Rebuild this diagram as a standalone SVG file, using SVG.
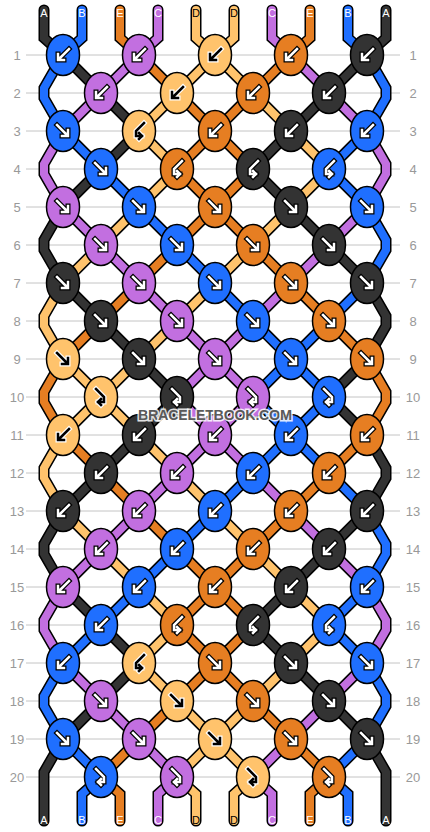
<svg xmlns="http://www.w3.org/2000/svg" xmlns:xlink="http://www.w3.org/1999/xlink" width="430" height="832" viewBox="0 0 430 832">
<style>
.k{fill:#333333}.b{fill:#1f6fff}.o{fill:#e67e22}.p{fill:#c26fe0}.l{fill:#ffc36c}
.ao{fill:none;stroke:#000;stroke-width:5;stroke-linecap:square;stroke-linejoin:miter}
.ai{fill:none;stroke:#fff;stroke-width:2.5;stroke-linecap:square;stroke-linejoin:miter}
.aow{fill:none;stroke:#fff;stroke-width:5;stroke-linecap:square;stroke-linejoin:miter}
.aik{fill:none;stroke:#000;stroke-width:2.5;stroke-linecap:square;stroke-linejoin:miter}
.num{font-family:"Liberation Sans",Arial,sans-serif;font-size:13px;fill:#999;text-anchor:middle}
.lab{font-family:"Liberation Sans",Arial,sans-serif;font-size:11px;text-anchor:middle}
</style>
<defs>
<ellipse id="kn" cx="0" cy="0" rx="16.5" ry="20.5" stroke="#000" stroke-width="1.5"/>
<path id="pB" d="M6,-6L-4,4M-5,-1L-5,5L1,5"/>
<path id="pF" d="M-6,-6L4,4M5,-1L5,5L-1,5"/>
<path id="pBF" d="M5,-8L-3,0L-3,5L3,5M0,2L3,5L0,8"/>
<path id="pFB" d="M-5,-8L3,0L3,5L-3,5M0,2L-3,5L0,8"/>
<g id="aB"><use href="#pB" class="ao"/><use href="#pB" class="ai"/></g>
<g id="aF"><use href="#pF" class="ao"/><use href="#pF" class="ai"/></g>
<g id="aBF"><use href="#pBF" class="ao"/><use href="#pBF" class="ai"/></g>
<g id="aFB"><use href="#pFB" class="ao"/><use href="#pFB" class="ai"/></g>
<g id="dB"><use href="#pB" class="aow"/><use href="#pB" class="aik"/></g>
<g id="dF"><use href="#pF" class="aow"/><use href="#pF" class="aik"/></g>
<g id="dBF"><use href="#pBF" class="aow"/><use href="#pBF" class="aik"/></g>
<g id="dFB"><use href="#pFB" class="aow"/><use href="#pFB" class="aik"/></g>
</defs>
<rect width="430" height="832" fill="#fff"/>
<g id="grid" stroke="#c4c4c4" stroke-width="1">
<line x1="26" y1="55" x2="400" y2="55"/><line x1="26" y1="93" x2="400" y2="93"/><line x1="26" y1="131" x2="400" y2="131"/><line x1="26" y1="169" x2="400" y2="169"/><line x1="26" y1="207" x2="400" y2="207"/><line x1="26" y1="245" x2="400" y2="245"/><line x1="26" y1="283" x2="400" y2="283"/><line x1="26" y1="321" x2="400" y2="321"/><line x1="26" y1="359" x2="400" y2="359"/><line x1="26" y1="397" x2="400" y2="397"/><line x1="26" y1="435" x2="400" y2="435"/><line x1="26" y1="473" x2="400" y2="473"/><line x1="26" y1="511" x2="400" y2="511"/><line x1="26" y1="549" x2="400" y2="549"/><line x1="26" y1="587" x2="400" y2="587"/><line x1="26" y1="625" x2="400" y2="625"/><line x1="26" y1="663" x2="400" y2="663"/><line x1="26" y1="701" x2="400" y2="701"/><line x1="26" y1="739" x2="400" y2="739"/><line x1="26" y1="777" x2="400" y2="777"/>
</g>
<g id="rownums" class="num">
<text x="17" y="60">1</text><text x="17" y="98">2</text><text x="17" y="136">3</text><text x="17" y="174">4</text><text x="17" y="212">5</text><text x="17" y="250">6</text><text x="17" y="288">7</text><text x="17" y="326">8</text><text x="17" y="364">9</text><text x="17" y="402">10</text><text x="17" y="440">11</text><text x="17" y="478">12</text><text x="17" y="516">13</text><text x="17" y="554">14</text><text x="17" y="592">15</text><text x="17" y="630">16</text><text x="17" y="668">17</text><text x="17" y="706">18</text><text x="17" y="744">19</text><text x="17" y="782">20</text>
<text x="413" y="60">1</text><text x="413" y="98">2</text><text x="413" y="136">3</text><text x="413" y="174">4</text><text x="413" y="212">5</text><text x="413" y="250">6</text><text x="413" y="288">7</text><text x="413" y="326">8</text><text x="413" y="364">9</text><text x="413" y="402">10</text><text x="413" y="440">11</text><text x="413" y="478">12</text><text x="413" y="516">13</text><text x="413" y="554">14</text><text x="413" y="592">15</text><text x="413" y="630">16</text><text x="413" y="668">17</text><text x="413" y="706">18</text><text x="413" y="744">19</text><text x="413" y="782">20</text>
</g>
<g id="connectors" fill="none" stroke-linecap="round" stroke-linejoin="miter">
<g id="outline" stroke="#000" stroke-width="11">
<use href="#sA"/><use href="#sB"/><use href="#sE"/><use href="#sC"/><use href="#sD"/>
</g>
<g stroke="#333333" stroke-width="8"><g id="sA">
<path d="M44,10L44,38L63,55M386,10L386,38L367,55"/>
<path d="M63,55L101,93M367,55L329,93M101,93L139,131M329,93L291,131M139,131L101,169M291,131L253,169M101,169L63,207M253,169L291,207M291,207L329,245M329,245L367,283M63,283L101,321M101,321L139,359M139,359L177,397M367,359L329,397M177,397L139,435M329,397L367,435M139,435L101,473M101,473L63,511M367,511L329,549M329,549L291,587M63,587L101,625M291,587L253,625M101,625L139,663M253,625L291,663M139,663L101,701M291,663L329,701M101,701L63,739M329,701L367,739"/>
<path d="M63,207L44,240L44,250L63,283M63,511L44,544L44,554L63,587M367,283L386,316L386,326L367,359M367,435L386,468L386,478L367,511"/>
<path d="M63,739L44,772L44,821M367,739L386,772L386,821"/>
</g></g>
<g stroke="#1f6fff" stroke-width="8"><g id="sB">
<path d="M82,10L82,38L63,55M348,10L348,38L367,55"/>
<path d="M63,131L101,169M367,131L329,169M101,169L139,207M329,169L367,207M139,207L177,245M177,245L215,283M215,283L253,321M367,283L329,321M253,321L291,359M329,321L291,359M291,359L253,397M291,359L329,397M253,397L291,435M329,397L291,435M291,435L253,473M291,435L329,473M253,473L215,511M329,473L367,511M215,511L177,549M177,549L139,587M139,587L101,625M367,587L329,625M101,625L63,663M329,625L367,663M63,739L101,777M367,739L329,777"/>
<path d="M63,55L44,88L44,98L63,131M367,55L386,88L386,98L367,131M367,207L386,240L386,250L367,283M367,511L386,544L386,554L367,587M63,663L44,696L44,706L63,739M367,663L386,696L386,706L367,739"/>
<path d="M101,777L82,794L82,821M329,777L348,794L348,821"/>
</g></g>
<g stroke="#e67e22" stroke-width="8"><g id="sE">
<path d="M120,10L120,38L139,55M310,10L310,38L291,55"/>
<path d="M139,55L177,93M291,55L253,93M177,93L215,131M253,93L215,131M215,131L177,169M215,131L253,169M177,169L215,207M253,169L215,207M215,207L177,245M215,207L253,245M177,245L139,283M253,245L291,283M139,283L101,321M291,283L329,321M101,321L63,359M329,321L367,359M63,435L101,473M367,435L329,473M101,473L139,511M329,473L291,511M139,511L177,549M291,511L253,549M177,549L215,587M253,549L215,587M215,587L177,625M215,587L253,625M177,625L215,663M253,625L215,663M215,663L177,701M215,663L253,701M177,701L139,739M253,701L291,739M139,739L101,777M291,739L329,777"/>
<path d="M63,359L44,392L44,402L63,435M367,359L386,392L386,402L367,435"/>
<path d="M101,777L120,794L120,821M329,777L310,794L310,821"/>
</g></g>
<g stroke="#c26fe0" stroke-width="8"><g id="sC">
<path d="M158,10L158,38L139,55M272,10L272,38L291,55"/>
<path d="M139,55L101,93M291,55L329,93M101,93L63,131M329,93L367,131M63,207L101,245M367,207L329,245M101,245L139,283M329,245L291,283M139,283L177,321M291,283L253,321M177,321L215,359M253,321L215,359M215,359L177,397M215,359L253,397M177,397L215,435M253,397L215,435M215,435L177,473M215,435L253,473M177,473L139,511M253,473L291,511M139,511L101,549M291,511L329,549M101,549L63,587M329,549L367,587M63,663L101,701M367,663L329,701M101,701L139,739M329,701L291,739M139,739L177,777M291,739L253,777"/>
<path d="M63,131L44,164L44,174L63,207M367,131L386,164L386,174L367,207M63,587L44,620L44,630L63,663M367,587L386,620L386,630L367,663"/>
<path d="M177,777L158,794L158,821M253,777L272,794L272,821"/>
</g></g>
<g stroke="#ffc36c" stroke-width="8"><g id="sD">
<path d="M196,10L196,38L215,55M234,10L234,38L215,55"/>
<path d="M215,55L177,93M215,55L253,93M177,93L139,131M253,93L291,131M139,131L177,169M291,131L329,169M177,169L139,207M329,169L291,207M139,207L101,245M291,207L253,245M101,245L63,283M253,245L215,283M215,283L177,321M177,321L139,359M63,359L101,397M139,359L101,397M101,397L63,435M101,397L139,435M139,435L177,473M177,473L215,511M63,511L101,549M215,511L253,549M101,549L139,587M253,549L291,587M139,587L177,625M291,587L329,625M177,625L139,663M329,625L291,663M139,663L177,701M291,663L253,701M177,701L215,739M253,701L215,739M215,739L177,777M215,739L253,777"/>
<path d="M63,283L44,316L44,326L63,359M63,435L44,468L44,478L63,511"/>
<path d="M177,777L196,794L196,821M253,777L234,794L234,821"/>
</g></g>
</g>
<g id="knots">
<g id="k1-1"><use href="#kn" class="b" x="63" y="55"/><use href="#aB" x="63" y="55"/></g>
<g id="k1-2"><use href="#kn" class="p" x="139" y="55"/><use href="#aB" x="139" y="55"/></g>
<g id="k1-3"><use href="#kn" class="l" x="215" y="55"/><use href="#dB" x="215" y="55"/></g>
<g id="k1-4"><use href="#kn" class="o" x="291" y="55"/><use href="#aB" x="291" y="55"/></g>
<g id="k1-5"><use href="#kn" class="k" x="367" y="55"/><use href="#aB" x="367" y="55"/></g>
<g id="k2-1"><use href="#kn" class="p" x="101" y="93"/><use href="#aB" x="101" y="93"/></g>
<g id="k2-2"><use href="#kn" class="l" x="177" y="93"/><use href="#dB" x="177" y="93"/></g>
<g id="k2-3"><use href="#kn" class="o" x="253" y="93"/><use href="#aB" x="253" y="93"/></g>
<g id="k2-4"><use href="#kn" class="k" x="329" y="93"/><use href="#aB" x="329" y="93"/></g>
<g id="k3-1"><use href="#kn" class="b" x="63" y="131"/><use href="#aF" x="63" y="131"/></g>
<g id="k3-2"><use href="#kn" class="l" x="139" y="131"/><use href="#dBF" x="139" y="131"/></g>
<g id="k3-3"><use href="#kn" class="o" x="215" y="131"/><use href="#aB" x="215" y="131"/></g>
<g id="k3-4"><use href="#kn" class="k" x="291" y="131"/><use href="#aB" x="291" y="131"/></g>
<g id="k3-5"><use href="#kn" class="b" x="367" y="131"/><use href="#aB" x="367" y="131"/></g>
<g id="k4-1"><use href="#kn" class="b" x="101" y="169"/><use href="#aF" x="101" y="169"/></g>
<g id="k4-2"><use href="#kn" class="o" x="177" y="169"/><use href="#aBF" x="177" y="169"/></g>
<g id="k4-3"><use href="#kn" class="k" x="253" y="169"/><use href="#aBF" x="253" y="169"/></g>
<g id="k4-4"><use href="#kn" class="b" x="329" y="169"/><use href="#aBF" x="329" y="169"/></g>
<g id="k5-1"><use href="#kn" class="p" x="63" y="207"/><use href="#aF" x="63" y="207"/></g>
<g id="k5-2"><use href="#kn" class="b" x="139" y="207"/><use href="#aF" x="139" y="207"/></g>
<g id="k5-3"><use href="#kn" class="o" x="215" y="207"/><use href="#aF" x="215" y="207"/></g>
<g id="k5-4"><use href="#kn" class="k" x="291" y="207"/><use href="#aF" x="291" y="207"/></g>
<g id="k5-5"><use href="#kn" class="b" x="367" y="207"/><use href="#aF" x="367" y="207"/></g>
<g id="k6-1"><use href="#kn" class="p" x="101" y="245"/><use href="#aF" x="101" y="245"/></g>
<g id="k6-2"><use href="#kn" class="b" x="177" y="245"/><use href="#aF" x="177" y="245"/></g>
<g id="k6-3"><use href="#kn" class="o" x="253" y="245"/><use href="#aF" x="253" y="245"/></g>
<g id="k6-4"><use href="#kn" class="k" x="329" y="245"/><use href="#aF" x="329" y="245"/></g>
<g id="k7-1"><use href="#kn" class="k" x="63" y="283"/><use href="#aF" x="63" y="283"/></g>
<g id="k7-2"><use href="#kn" class="p" x="139" y="283"/><use href="#aF" x="139" y="283"/></g>
<g id="k7-3"><use href="#kn" class="b" x="215" y="283"/><use href="#aF" x="215" y="283"/></g>
<g id="k7-4"><use href="#kn" class="o" x="291" y="283"/><use href="#aF" x="291" y="283"/></g>
<g id="k7-5"><use href="#kn" class="k" x="367" y="283"/><use href="#aF" x="367" y="283"/></g>
<g id="k8-1"><use href="#kn" class="k" x="101" y="321"/><use href="#aF" x="101" y="321"/></g>
<g id="k8-2"><use href="#kn" class="p" x="177" y="321"/><use href="#aF" x="177" y="321"/></g>
<g id="k8-3"><use href="#kn" class="b" x="253" y="321"/><use href="#aF" x="253" y="321"/></g>
<g id="k8-4"><use href="#kn" class="o" x="329" y="321"/><use href="#aF" x="329" y="321"/></g>
<g id="k9-1"><use href="#kn" class="l" x="63" y="359"/><use href="#dF" x="63" y="359"/></g>
<g id="k9-2"><use href="#kn" class="k" x="139" y="359"/><use href="#aF" x="139" y="359"/></g>
<g id="k9-3"><use href="#kn" class="p" x="215" y="359"/><use href="#aF" x="215" y="359"/></g>
<g id="k9-4"><use href="#kn" class="b" x="291" y="359"/><use href="#aF" x="291" y="359"/></g>
<g id="k9-5"><use href="#kn" class="o" x="367" y="359"/><use href="#aF" x="367" y="359"/></g>
<g id="k10-1"><use href="#kn" class="l" x="101" y="397"/><use href="#dFB" x="101" y="397"/></g>
<g id="k10-2"><use href="#kn" class="k" x="177" y="397"/><use href="#aFB" x="177" y="397"/></g>
<g id="k10-3"><use href="#kn" class="p" x="253" y="397"/><use href="#aFB" x="253" y="397"/></g>
<g id="k10-4"><use href="#kn" class="b" x="329" y="397"/><use href="#aFB" x="329" y="397"/></g>
<g id="k11-1"><use href="#kn" class="l" x="63" y="435"/><use href="#dB" x="63" y="435"/></g>
<g id="k11-2"><use href="#kn" class="k" x="139" y="435"/><use href="#aB" x="139" y="435"/></g>
<g id="k11-3"><use href="#kn" class="p" x="215" y="435"/><use href="#aB" x="215" y="435"/></g>
<g id="k11-4"><use href="#kn" class="b" x="291" y="435"/><use href="#aB" x="291" y="435"/></g>
<g id="k11-5"><use href="#kn" class="o" x="367" y="435"/><use href="#aB" x="367" y="435"/></g>
<g id="k12-1"><use href="#kn" class="k" x="101" y="473"/><use href="#aB" x="101" y="473"/></g>
<g id="k12-2"><use href="#kn" class="p" x="177" y="473"/><use href="#aB" x="177" y="473"/></g>
<g id="k12-3"><use href="#kn" class="b" x="253" y="473"/><use href="#aB" x="253" y="473"/></g>
<g id="k12-4"><use href="#kn" class="o" x="329" y="473"/><use href="#aB" x="329" y="473"/></g>
<g id="k13-1"><use href="#kn" class="k" x="63" y="511"/><use href="#aB" x="63" y="511"/></g>
<g id="k13-2"><use href="#kn" class="p" x="139" y="511"/><use href="#aB" x="139" y="511"/></g>
<g id="k13-3"><use href="#kn" class="b" x="215" y="511"/><use href="#aB" x="215" y="511"/></g>
<g id="k13-4"><use href="#kn" class="o" x="291" y="511"/><use href="#aB" x="291" y="511"/></g>
<g id="k13-5"><use href="#kn" class="k" x="367" y="511"/><use href="#aB" x="367" y="511"/></g>
<g id="k14-1"><use href="#kn" class="p" x="101" y="549"/><use href="#aB" x="101" y="549"/></g>
<g id="k14-2"><use href="#kn" class="b" x="177" y="549"/><use href="#aB" x="177" y="549"/></g>
<g id="k14-3"><use href="#kn" class="o" x="253" y="549"/><use href="#aB" x="253" y="549"/></g>
<g id="k14-4"><use href="#kn" class="k" x="329" y="549"/><use href="#aB" x="329" y="549"/></g>
<g id="k15-1"><use href="#kn" class="p" x="63" y="587"/><use href="#aB" x="63" y="587"/></g>
<g id="k15-2"><use href="#kn" class="b" x="139" y="587"/><use href="#aB" x="139" y="587"/></g>
<g id="k15-3"><use href="#kn" class="o" x="215" y="587"/><use href="#aB" x="215" y="587"/></g>
<g id="k15-4"><use href="#kn" class="k" x="291" y="587"/><use href="#aB" x="291" y="587"/></g>
<g id="k15-5"><use href="#kn" class="b" x="367" y="587"/><use href="#aB" x="367" y="587"/></g>
<g id="k16-1"><use href="#kn" class="b" x="101" y="625"/><use href="#aB" x="101" y="625"/></g>
<g id="k16-2"><use href="#kn" class="o" x="177" y="625"/><use href="#aBF" x="177" y="625"/></g>
<g id="k16-3"><use href="#kn" class="k" x="253" y="625"/><use href="#aBF" x="253" y="625"/></g>
<g id="k16-4"><use href="#kn" class="b" x="329" y="625"/><use href="#aBF" x="329" y="625"/></g>
<g id="k17-1"><use href="#kn" class="b" x="63" y="663"/><use href="#aB" x="63" y="663"/></g>
<g id="k17-2"><use href="#kn" class="l" x="139" y="663"/><use href="#dBF" x="139" y="663"/></g>
<g id="k17-3"><use href="#kn" class="o" x="215" y="663"/><use href="#aF" x="215" y="663"/></g>
<g id="k17-4"><use href="#kn" class="k" x="291" y="663"/><use href="#aF" x="291" y="663"/></g>
<g id="k17-5"><use href="#kn" class="b" x="367" y="663"/><use href="#aF" x="367" y="663"/></g>
<g id="k18-1"><use href="#kn" class="p" x="101" y="701"/><use href="#aF" x="101" y="701"/></g>
<g id="k18-2"><use href="#kn" class="l" x="177" y="701"/><use href="#dF" x="177" y="701"/></g>
<g id="k18-3"><use href="#kn" class="o" x="253" y="701"/><use href="#aF" x="253" y="701"/></g>
<g id="k18-4"><use href="#kn" class="k" x="329" y="701"/><use href="#aF" x="329" y="701"/></g>
<g id="k19-1"><use href="#kn" class="b" x="63" y="739"/><use href="#aF" x="63" y="739"/></g>
<g id="k19-2"><use href="#kn" class="p" x="139" y="739"/><use href="#aF" x="139" y="739"/></g>
<g id="k19-3"><use href="#kn" class="l" x="215" y="739"/><use href="#dF" x="215" y="739"/></g>
<g id="k19-4"><use href="#kn" class="o" x="291" y="739"/><use href="#aF" x="291" y="739"/></g>
<g id="k19-5"><use href="#kn" class="k" x="367" y="739"/><use href="#aF" x="367" y="739"/></g>
<g id="k20-1"><use href="#kn" class="b" x="101" y="777"/><use href="#aFB" x="101" y="777"/></g>
<g id="k20-2"><use href="#kn" class="p" x="177" y="777"/><use href="#aFB" x="177" y="777"/></g>
<g id="k20-3"><use href="#kn" class="l" x="253" y="777"/><use href="#dFB" x="253" y="777"/></g>
<g id="k20-4"><use href="#kn" class="o" x="329" y="777"/><use href="#aFB" x="329" y="777"/></g>
</g>
<g id="labels" class="lab">
<text x="44" y="17" fill="#fff">A</text><text x="82" y="17" fill="#fff">B</text><text x="120" y="17" fill="#fff">E</text><text x="158" y="17" fill="#fff">C</text><text x="196" y="17" fill="#000">D</text><text x="234" y="17" fill="#000">D</text><text x="272" y="17" fill="#fff">C</text><text x="310" y="17" fill="#fff">E</text><text x="348" y="17" fill="#fff">B</text><text x="386" y="17" fill="#fff">A</text>
<text x="44" y="824" fill="#fff">A</text><text x="82" y="824" fill="#fff">B</text><text x="120" y="824" fill="#fff">E</text><text x="158" y="824" fill="#fff">C</text><text x="196" y="824" fill="#000">D</text><text x="234" y="824" fill="#000">D</text><text x="272" y="824" fill="#fff">C</text><text x="310" y="824" fill="#fff">E</text><text x="348" y="824" fill="#fff">B</text><text x="386" y="824" fill="#fff">A</text>
</g>
<text id="watermark" x="215" y="420" font-family="Liberation Sans,Arial,sans-serif" font-weight="bold" font-size="14.5" text-anchor="middle" textLength="154" fill="#5a5a5a" stroke="#ffffff" stroke-opacity="0.85" stroke-width="3" paint-order="stroke">BRACELETBOOK.COM</text>
</svg>
